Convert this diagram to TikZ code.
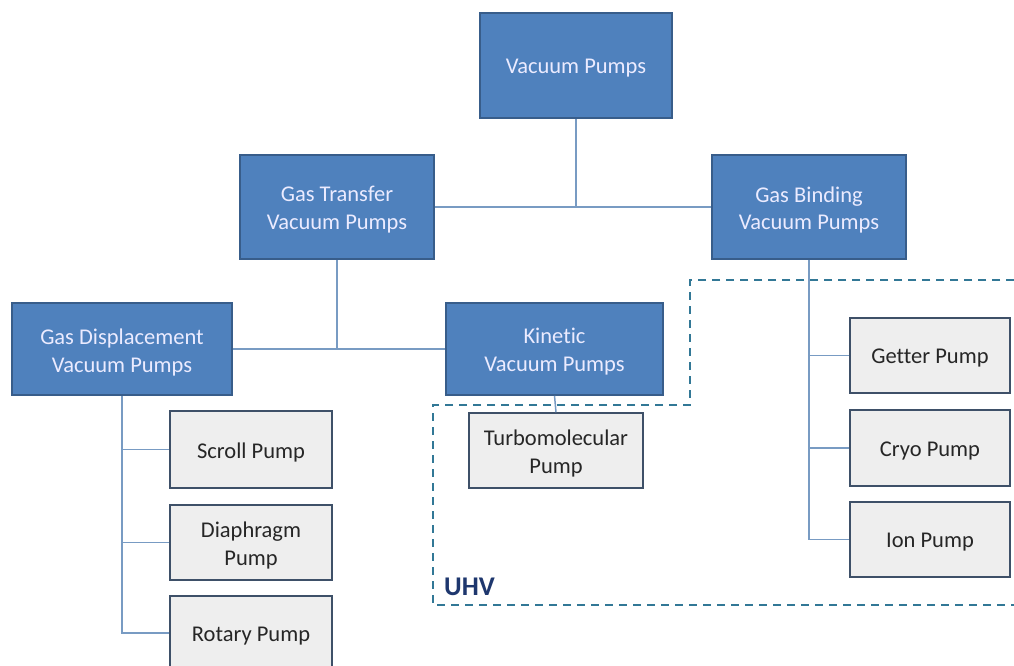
\documentclass[tikz,border=0pt]{standalone}
\usepackage{fontspec}
\setmainfont[Ligatures={NoCommon}]{Carlito}
\begin{document}
\begin{tikzpicture}[x=1pt,y=-1pt,
  bluebox/.style={draw=boxedge,fill=boxblue,line width=1.6pt,inner sep=0pt},
  greybox/.style={draw=greyedge,fill=boxgrey,line width=1.6pt,inner sep=0pt},
  bluetext/.style={text=white!92!blue,font=\fontsize{22.5}{28}\selectfont,align=center,inner sep=0pt},
  greytext/.style={text=black!85,font=\fontsize{22.5}{28}\selectfont,align=center,inner sep=0pt},
  conn/.style={draw=linecol,line width=1.5pt},
  uhvline/.style={draw=dashcol,line width=2pt,dash pattern=on 8pt off 6pt}]
\definecolor{boxblue}{RGB}{79,129,189}
\definecolor{boxedge}{RGB}{56,93,138}
\definecolor{boxgrey}{RGB}{238,238,238}
\definecolor{greyedge}{RGB}{62,80,104}
\definecolor{linecol}{RGB}{120,155,195}
\definecolor{dashcol}{RGB}{50,120,150}
\definecolor{uhvcol}{RGB}{30,55,110}
\useasboundingbox (0,0) rectangle (1014,666);
\fill[white] (0,0) rectangle (1014,666);
% dashed UHV region
\draw[uhvline] (1014,280) -- (690,280) -- (690,405) -- (433,405) -- (433,605) -- (1014,605);
\node[text=uhvcol,font=\bfseries\fontsize{27}{30}\selectfont,anchor=base west,inner sep=0pt] (uhv) at (444,595) {UHV};
% boxes
\node[bluebox,minimum width=192pt,minimum height=105pt] (vp) at (576,65.5) {};
\node[bluebox,minimum width=194pt,minimum height=104pt] (gt) at (337,207) {};
\node[bluebox,minimum width=194pt,minimum height=104pt] (gb) at (809,207) {};
\node[bluebox,minimum width=220pt,minimum height=92pt] (gd) at (122,349) {};
\node[bluebox,minimum width=217pt,minimum height=92pt] (kin) at (554.5,349) {};
\node[greybox,minimum width=162pt,minimum height=77pt] (scroll) at (251,449.5) {};
\node[greybox,minimum width=162pt,minimum height=75pt] (diaph) at (251,542.5) {};
\node[greybox,minimum width=162pt,minimum height=74pt] (rot) at (251,633) {};
\node[greybox,minimum width=174pt,minimum height=75pt] (turbo) at (556,450.5) {};
\node[greybox,minimum width=160pt,minimum height=75pt] (getter) at (930,355.5) {};
\node[greybox,minimum width=160pt,minimum height=76pt] (cryo) at (930,448) {};
\node[greybox,minimum width=160pt,minimum height=75pt] (ion) at (930,539.5) {};
% texts
\node[bluetext] (vpt) at ([yshift=-3pt]vp.center) {Vacuum Pumps};
\node[bluetext] (gtt) at ([yshift=-3pt]gt.center) {Gas Transfer\\Vacuum Pumps};
\node[bluetext] (gbt) at ([yshift=-3pt]gb.center) {Gas Binding\\Vacuum Pumps};
\node[bluetext] (gdt) at ([yshift=-3pt]gd.center) {Gas Displacement\\Vacuum Pumps};
\node[bluetext] (kint) at ([yshift=-3pt]kin.center) {Kinetic\\Vacuum Pumps};
\node[greytext] (scrollt) at ([yshift=-3pt]scroll.center) {Scroll Pump};
\node[greytext] (diapht) at ([yshift=-3pt]diaph.center) {Diaphragm\\Pump};
\node[greytext] (rott) at ([yshift=-3pt]rot.center) {Rotary Pump};
\node[greytext] (turbot) at ([yshift=-3pt]turbo.center) {Turbomolecular\\Pump};
\node[greytext] (gettert) at ([yshift=-3pt]getter.center) {Getter Pump};
\node[greytext] (cryot) at ([yshift=-3pt]cryo.center) {Cryo Pump};
\node[greytext] (iont) at ([yshift=-3pt]ion.center) {Ion Pump};
% connectors
\coordinate (j1) at (vp.south |- gt.east);
\draw[conn] (vp.south) -- (j1);
\draw[conn] (gt.east) -- (gb.west);
\coordinate (j2) at (gt.south |- gd.east);
\draw[conn] (gt.south) -- (j2);
\draw[conn] (gd.east) -- (kin.west);
\draw[conn] (kin.south) -- (turbo.north);
\coordinate (gdx) at (gd.south);
\draw[conn] (gd.south) |- (rot.west);
\draw[conn] (scroll.west) -- (scroll.west -| gdx);
\draw[conn] (diaph.west) -- (diaph.west -| gdx);
\coordinate (gbx) at (gb.south);
\draw[conn] (gb.south) |- (ion.west);
\draw[conn] (getter.west) -- (getter.west -| gbx);
\draw[conn] (cryo.west) -- (cryo.west -| gbx);
\end{tikzpicture}
\end{document}
